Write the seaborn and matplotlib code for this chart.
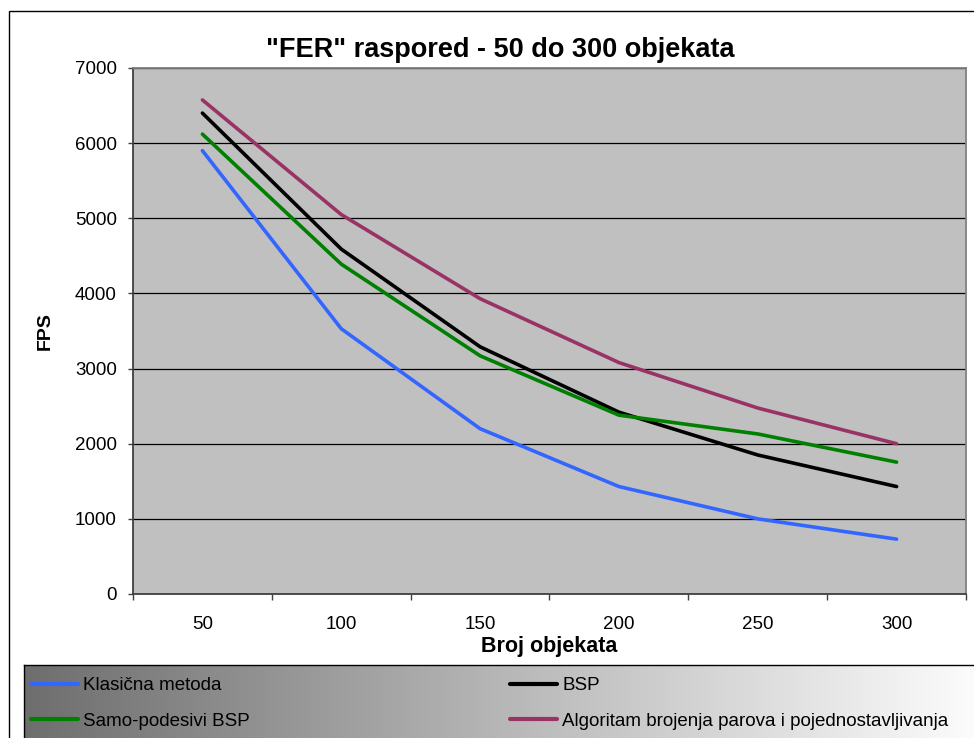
import numpy as np
import pandas as pd
import matplotlib
matplotlib.use("Agg")
import matplotlib.pyplot as plt
import seaborn as sns
from matplotlib.patches import Rectangle

categories = ["50", "100", "150", "200", "250", "300"]
klasicna = [5900, 3530, 2200, 1430, 1000, 730]
bsp = [6400, 4590, 3290, 2420, 1850, 1430]
samo_bsp = [6120, 4390, 3170, 2380, 2130, 1755]
algoritam = [6575, 5050, 3930, 3080, 2475, 2000]
series_names = ["Klasična metoda", "BSP", "Samo-podesivi BSP",
                "Algoritam brojenja parova i pojednostavljivanja"]
colors = ["#3366FF", "#000000", "#008000", "#993366"]

rows = []
for name, vals in zip(series_names, [klasicna, bsp, samo_bsp, algoritam]):
    for i, v in enumerate(vals):
        rows.append({"x": i, "FPS": v, "serija": name})
df = pd.DataFrame(rows)

sns.set_theme(style="white")
plt.rcParams['font.family'] = ['Liberation Sans', 'DejaVu Sans']
for k in ["text.color", "axes.labelcolor", "xtick.color", "ytick.color"]:
    plt.rcParams[k] = "black"

W, H = 974, 738
fig = plt.figure(figsize=(W / 100, H / 100), dpi=100)
fig.patch.set_facecolor("white")

# outer chart border
fig.patches.append(Rectangle((9 / W, -0.05), 1.2, (H - 11) / H + 0.05,
                             transform=fig.transFigure, fill=False,
                             edgecolor="black", linewidth=1.0, zorder=0))

ax = fig.add_axes([133 / W, (H - 594) / H, (966 - 133) / W, (594 - 68) / H])
ax.set_facecolor("#C0C0C0")

sns.lineplot(data=df, x="x", y="FPS", hue="serija", hue_order=series_names,
             palette=colors, linewidth=2.6, ax=ax, legend=False, zorder=3)

ax.set_xlim(-0.5, 5.5)
ax.set_ylim(0, 7000)
ax.set_yticks(np.arange(0, 7001, 1000))
ax.yaxis.grid(True, color="black", linewidth=0.9)
ax.set_axisbelow(True)
ax.set_xticks(np.arange(-0.5, 5.6, 1.0))
ax.set_xticklabels([])
ax.set_xticks(np.arange(0, 6), minor=True)
ax.set_xticklabels(categories, minor=True)
ax.tick_params(axis="x", which="major", direction="out", length=4.3, width=1,
               color="#404040", bottom=True)
ax.tick_params(axis="x", which="minor", length=0, labelsize=13.5, pad=16)
ax.tick_params(axis="y", direction="out", length=3.6, width=1,
               color="#404040", left=True, labelsize=13.5, pad=8)
for s in ["left", "bottom"]:
    ax.spines[s].set_color("#404040")
    ax.spines[s].set_linewidth(1.3)
for s in ["top", "right"]:
    ax.spines[s].set_color("#808080")
    ax.spines[s].set_linewidth(1.3)

ax.set_xlabel("Broj objekata", fontsize=15.5, fontweight="bold", labelpad=2)
ax.set_ylabel("FPS", fontsize=14, fontweight="bold", labelpad=15)
fig.text(500 / W, 1 - 50 / H, '"FER" raspored - 50 do 300 objekata',
         ha="center", va="center", fontsize=19.5, fontweight="bold")

# legend box with gradient
lax = fig.add_axes([24 / W, -0.02, 1.0, (H - 665) / H + 0.02])
grad = np.linspace(0, 1, 256).reshape(1, -1)
lax.imshow(grad, aspect="auto", cmap=matplotlib.colors.LinearSegmentedColormap.from_list(
    "g", ["#6E6E6E", "#B8B8B8", "#FFFFFF"]), extent=[0, 1, 0, 1])
lax.set_xticks([])
lax.set_yticks([])
for s in lax.spines.values():
    s.set_color("black")
    s.set_linewidth(1.0)

handles = [plt.Line2D([], [], color=c, linewidth=3) for c in colors]
order = [0, 2, 1, 3]
leg_fs = 13.5


def make_legend(cs):
    return fig.legend([handles[i] for i in order], [series_names[i] for i in order],
                      loc="upper left", bbox_to_anchor=(31 / W, 1 - 677 / H),
                      ncol=2, frameon=False, fontsize=leg_fs, handlelength=2.5,
                      handletextpad=0.27, columnspacing=cs, labelspacing=1.0,
                      borderaxespad=0, borderpad=0)


cs = 15.0
leg = make_legend(cs)
fig.canvas.draw()
x2 = leg.get_texts()[2].get_window_extent().x0
target = 562
fs_px = leg_fs * 100 / 72
leg.remove()
cs = cs + (target - x2) / fs_px
leg = make_legend(cs)

fig.savefig("out.png", dpi=100)
